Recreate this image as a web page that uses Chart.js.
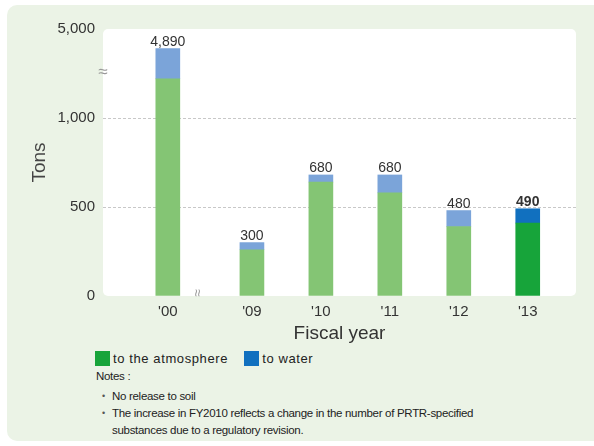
<!DOCTYPE html>
<html>
<head>
<meta charset="utf-8">
<script src="https://cdn.jsdelivr.net/npm/chart.js@4.4.1/dist/chart.umd.min.js"></script>
<style>
  body { margin: 0; background: #fff; font-family: "Liberation Sans", Arial, sans-serif; }
  #panel { position: absolute; left: 7px; top: 5px; width: 600px; height: 436px; background: #ebf3e6; border-radius: 10px; }
  #contenedor { position: absolute; left: 0; top: 0; width: 594px; height: 350px; }
  #leyenda { position: absolute; left: 95px; top: 351px; font-size: 13px; color: #222; letter-spacing: 0.6px; }
  #leyenda span.caja { display: inline-block; width: 15px; height: 15px; vertical-align: -3px; margin-right: 3px; }
  #notas { position: absolute; left: 96px; top: 368px; font-size: 11.5px; color: #222; letter-spacing: -0.3px; line-height: 17px; }
  #notas ul { margin: 3px 0 0 0; padding: 0 0 0 16px; list-style: none; }
  #notas li { position: relative; }
  #notas li::before { content: "•"; position: absolute; left: -10px; font-size: 9px; color: #555; }
</style>
</head>
<body>
<div id="panel"></div>
<div id="contenedor"><canvas id="grafico" width="594" height="350"></canvas></div>
<div id="leyenda">
  <span class="caja" style="background:#17a43a"></span>to the atmosphere
  <span class="caja" style="background:#1170bf; margin-left:12px"></span>to water
</div>
<div id="notas">
  Notes :
  <ul>
    <li>No release to soil</li>
    <li>The increase in FY2010 reflects a change in the number of PRTR-specified<br>substances due to a regulatory revision.</li>
  </ul>
</div>
<script>
// Años fiscales y emisiones (toneladas)
const anios = ["'00", "'09", "'10", "'11", "'12", "'13"];
const atmosfera = [4720, 260, 640, 580, 390, 410];
const agua = [170, 40, 40, 100, 90, 80];
const ticksY = [0, 500, 1000, 5000];
// Tramo del eje Y que se omite (corte entre '00 y el resto)
const corteY = [1220, 4720];

const totales = atmosfera.map((v, i) => v + agua[i]);
const ultimo = anios.length - 1;

// Posición en X: hueco extra tras '00 por el corte de años
const posX = anios.map((a, i) => i === 0 ? 0 : i + 0.22);

// Escala lineal con un tramo suprimido
class EscalaCortada extends Chart.LinearScale {
    aVista(v) {
        if (v <= corteY[0]) return v;
        if (v < corteY[1]) return corteY[0];
        return corteY[0] + (v - corteY[1]);
    }
    getPixelForValue(value) {
        if (value === null || value === undefined || isNaN(value)) return NaN;
        const d0 = this.aVista(this.min), d1 = this.aVista(this.max);
        return this.getPixelForDecimal((this.aVista(value) - d0) / (d1 - d0));
    }
    getValueForPixel(pixel) {
        const d0 = this.aVista(this.min), d1 = this.aVista(this.max);
        const d = d0 + this.getDecimalForPixel(pixel) * (d1 - d0);
        return d <= corteY[0] ? d : d - corteY[0] + corteY[1];
    }
}
EscalaCortada.id = "cortada";
EscalaCortada.defaults = Chart.LinearScale.defaults;
Chart.register(EscalaCortada);

const colorAtm = anios.map((a, i) => i === ultimo ? "#17a43a" : "#84c574");
const colorAgua = anios.map((a, i) => i === ultimo ? "#1170bf" : "#7ba4d9");

const fuente = '"Liberation Sans", Arial, sans-serif';

const decoracion = {
    id: "decoracion",
    beforeDraw(chart) {
        const { ctx, chartArea: a } = chart;
        ctx.save();
        ctx.fillStyle = "#fff";
        ctx.beginPath();
        ctx.roundRect(a.left, a.top, a.right - a.left, a.bottom - a.top, 5);
        ctx.fill();
        ctx.restore();
    },
    afterDatasetsDraw(chart) {
        const { ctx } = chart;
        const meta = chart.getDatasetMeta(1);
        ctx.save();
        ctx.textAlign = "center";
        ctx.textBaseline = "alphabetic";
        ctx.fillStyle = "#333";
        totales.forEach((t, i) => {
            const barra = meta.data[i];
            ctx.font = (i === ultimo ? "bold " : "") + "14px " + fuente;
            ctx.fillText(t.toLocaleString("en-US"), barra.x, barra.y - 3);
        });

        // marcas de corte
        const y = chart.scales.y, x = chart.scales.x;
        ctx.fillStyle = "#999";
        ctx.font = "17px " + fuente;
        ctx.textBaseline = "middle";
        ctx.fillText("≈", chart.chartArea.left, y.getPixelForValue(corteY[0]) - 7);
        ctx.translate((x.getPixelForValue(posX[0]) + x.getPixelForValue(posX[1])) / 2 - 13, chart.chartArea.bottom - 3);
        ctx.rotate(Math.PI / 2);
        ctx.font = "14px " + fuente;
        ctx.fillText("≈", 0, 0);
        ctx.restore();
    }
};

new Chart(document.getElementById("grafico"), {
    type: "bar",
    data: {
        datasets: [
            {
                label: "to the atmosphere",
                data: atmosfera.map((v, i) => ({ x: posX[i], y: v })),
                backgroundColor: colorAtm,
                barThickness: 24
            },
            {
                label: "to water",
                data: agua.map((v, i) => ({ x: posX[i], y: v })),
                backgroundColor: colorAgua,
                barThickness: 24
            }
        ]
    },
    options: {
        responsive: false,
        animation: false,
        layout: { padding: { top: 29, right: 18, left: 0, bottom: 0 } },
        plugins: { legend: { display: false }, tooltip: { enabled: false } },
        scales: {
            x: {
                type: "linear",
                stacked: true,
                offset: false,
                min: -0.94,
                max: 5.92,
                afterBuildTicks: s => { s.ticks = posX.map(v => ({ value: v })); },
                afterFit: s => { s.height = 54; },
                ticks: {
                    padding: 7,
                    color: "#333",
                    font: { family: fuente, size: 15 },
                    callback: (v, i) => anios[i]
                },
                grid: { display: false, drawTicks: false },
                border: { display: false },
                title: {
                    display: true,
                    text: "Fiscal year",
                    color: "#333",
                    font: { family: fuente, size: 19 },
                    padding: { top: 0, bottom: 5 }
                }
            },
            y: {
                type: "cortada",
                stacked: true,
                min: 0,
                max: 5000,
                afterBuildTicks: s => { s.ticks = ticksY.map(v => ({ value: v })); },
                afterFit: s => { s.width = 103; },
                ticks: {
                    padding: 8,
                    color: "#333",
                    font: { family: fuente, size: 15 },
                    callback: v => v.toLocaleString("en-US")
                },
                grid: {
                    drawTicks: false,
                    color: c => (c.tick && (c.tick.value === 500 || c.tick.value === 1000)) ? "#c8c8c8" : "transparent"
                },
                border: { display: false, dash: [3, 2] },
                title: {
                    display: true,
                    text: "Tons",
                    color: "#444",
                    font: { family: fuente, size: 19 },
                    padding: { top: 28, bottom: 0 }
                }
            }
        }
    },
    plugins: [decoracion]
});
</script>
</body>
</html>
